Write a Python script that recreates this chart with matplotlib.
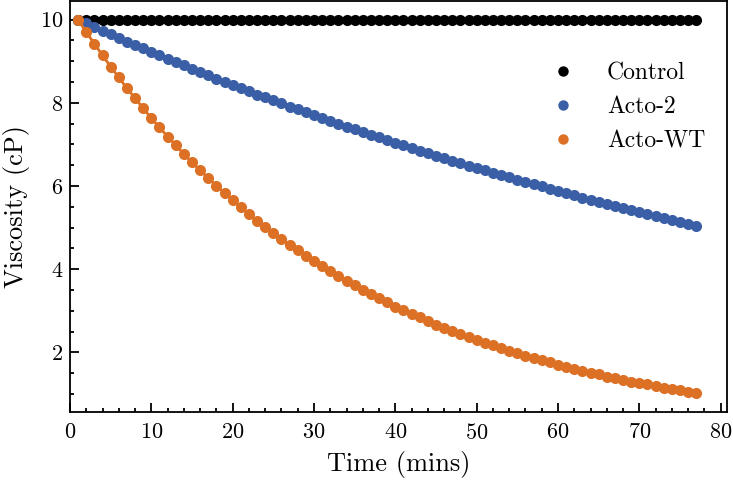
import matplotlib
matplotlib.use("Agg")
import matplotlib.pyplot as plt
from matplotlib.lines import Line2D
from matplotlib.ticker import MultipleLocator

plt.rcParams['font.family'] = 'serif'
plt.rcParams['font.serif'] = ['cmr10']
plt.rcParams['mathtext.fontset'] = 'cm'
plt.rcParams['axes.formatter.use_mathtext'] = True

time_mins = list(range(1, 78))

control = [10.0] * 77

acto_2 = [10.00, 9.91, 9.82, 9.73, 9.65, 9.56, 9.47, 9.39, 9.31, 9.22,
          9.14, 9.06, 8.98, 8.90, 8.82, 8.74, 8.66, 8.58, 8.50, 8.43,
          8.35, 8.28, 8.20, 8.13, 8.06, 7.99, 7.91, 7.84, 7.77, 7.70,
          7.63, 7.57, 7.50, 7.43, 7.36, 7.30, 7.23, 7.17, 7.10, 7.04,
          6.98, 6.91, 6.85, 6.79, 6.73, 6.67, 6.61, 6.55, 6.49, 6.43,
          6.38, 6.32, 6.26, 6.21, 6.15, 6.10, 6.04, 5.99, 5.93, 5.88,
          5.83, 5.78, 5.72, 5.67, 5.62, 5.57, 5.52, 5.47, 5.42, 5.37,
          5.33, 5.28, 5.23, 5.18, 5.14, 5.09, 5.05]

acto_wt = [10.00, 9.70, 9.42, 9.14, 8.87, 8.61, 8.35, 8.11, 7.87, 7.63,
           7.41, 7.19, 6.98, 6.77, 6.57, 6.38, 6.19, 6.01, 5.83, 5.66,
           5.49, 5.33, 5.17, 5.02, 4.87, 4.72, 4.58, 4.45, 4.32, 4.19,
           4.07, 3.95, 3.83, 3.72, 3.61, 3.50, 3.40, 3.30, 3.20, 3.10,
           3.01, 2.92, 2.84, 2.75, 2.67, 2.59, 2.52, 2.44, 2.37, 2.30,
           2.23, 2.17, 2.10, 2.04, 1.98, 1.92, 1.86, 1.81, 1.76, 1.70,
           1.65, 1.60, 1.56, 1.51, 1.47, 1.42, 1.38, 1.34, 1.30, 1.26,
           1.23, 1.19, 1.15, 1.12, 1.09, 1.05, 1.02]

series_names = ["Control", "Acto-2", "Acto-WT"]
colors = ["#000000", "#3a5fa6", "#dc7126"]

fig = plt.figure(figsize=(7.33, 4.8), dpi=100)
ax = fig.add_axes([0.0955, 0.142, 0.8965, 0.856])

for vals, c in zip([control, acto_2, acto_wt], colors):
    ax.plot(time_mins, vals, '-', color=c, lw=2.0, marker='o', ms=8,
            markeredgewidth=0, zorder=3)

ax.set_xlim(left=0)
ax.autoscale(axis='y')

ax.xaxis.set_major_locator(MultipleLocator(10))
ax.xaxis.set_minor_locator(MultipleLocator(2))
ax.yaxis.set_major_locator(MultipleLocator(2))
ax.yaxis.set_minor_locator(MultipleLocator(0.5))
ax.tick_params(which='both', direction='in', top=False, right=False, labelsize=16, width=1.3, pad=5)
ax.tick_params(axis='x', which='both', pad=8)
ax.tick_params(which='major', length=6.5)
ax.tick_params(which='minor', length=3.2)
for s in ax.spines.values():
    s.set_linewidth(1.3)

ax.set_xlabel("Time (mins)", fontsize=19, labelpad=6)
ax.set_ylabel("Viscosity (cP)", fontsize=19, labelpad=7)

handles = [Line2D([], [], ls='none', marker='o', ms=7.5, color=c, markeredgewidth=0) for c in colors]
ax.legend(handles, series_names, frameon=False, fontsize=17, loc='upper left',
          bbox_to_anchor=(0.682, 0.903), handletextpad=0.86, labelspacing=0.5)

fig.savefig("out.png", dpi=100)
